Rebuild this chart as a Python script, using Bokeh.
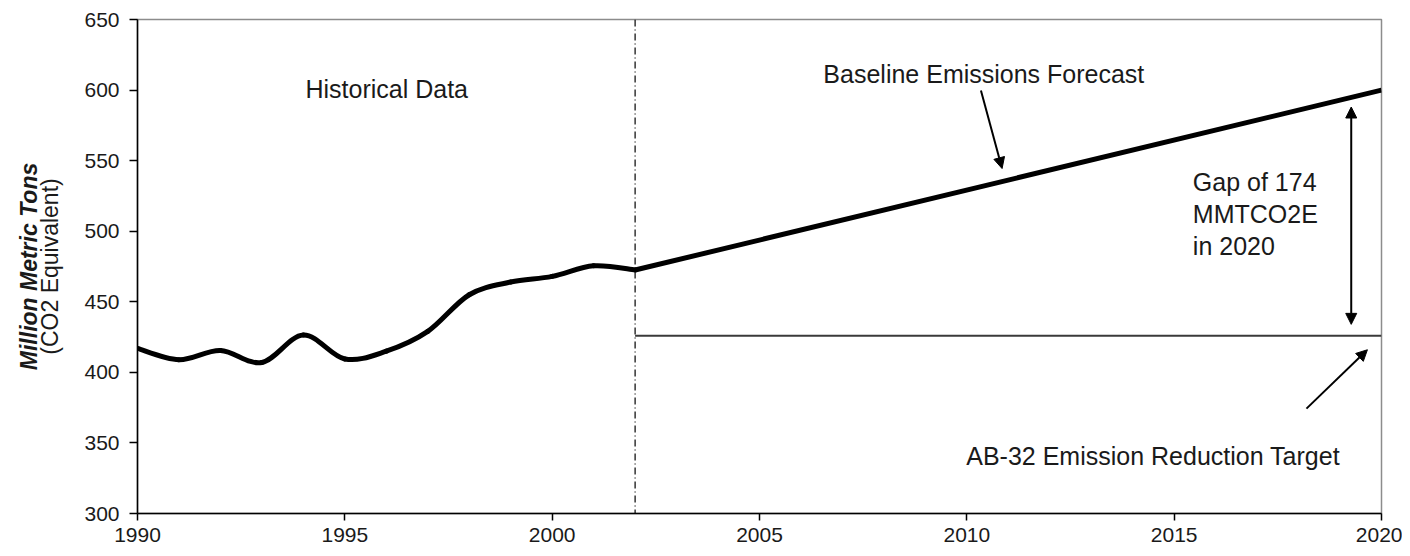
from bokeh.plotting import figure
from bokeh.models import (LinearAxis, FixedTicker, Span, Arrow, NormalHead,
                          ColumnDataSource, Range1d)
from bokeh.core.properties import value
from bokeh.embed import file_html
from bokeh.resources import INLINE

# ---- data ----
hist_years = [1990, 1991, 1992, 1993, 1994, 1995, 1996, 1997, 1998, 1999, 2000, 2001, 2002]
hist_values = [417, 409, 415.5, 407, 426.5, 409.5, 415, 429, 455, 464, 468, 475.5, 472.5]

forecast_years = [2002, 2020]
forecast_values = [472.5, 600]

target_years = [2002, 2020]
target_values = [426, 426]

split_year = 2002

x_ticks = [1990, 1995, 2000, 2005, 2010, 2015, 2020]
y_ticks = [300, 350, 400, 450, 500, 550, 600, 650]

note_text = ["Historical Data", "Baseline Emissions Forecast", "Gap of 174", "MMTCO2E", "in 2020"]
note_x = [1994.05, 2006.54, 2015.45, 2015.45, 2015.45]
note_y = [601, 611.5, 534.7, 512.3, 489.8]

target_note = ["AB-32 Emission Reduction Target"]
target_note_x = [2019.0]
target_note_y = [341]

# arrows: (x_start, y_start, x_end, y_end)
arrow_baseline = (2010.34, 599.7, 2010.85, 544.4)
arrow_target = (2018.19, 374.3, 2019.66, 416.0)
arrow_gap = (2019.27, 434.0, 2019.27, 588.0)

FONT = "Liberation Sans"

p = figure(width=1402, height=552,
           x_range=Range1d(1990, 2020), y_range=Range1d(300, 650),
           output_backend="svg", toolbar_location=None,
           min_border_left=137, min_border_right=21,
           min_border_top=19, min_border_bottom=39)
p.background_fill_color = "white"
p.border_fill_color = "white"
p.grid.visible = False
p.outline_line_color = "#8c8c8c"
p.outline_line_width = 1.5

for ax in (p.xaxis[0], p.yaxis[0]):
    ax.axis_line_color = "black"
    ax.axis_line_width = 1.5
    ax.major_tick_line_color = "black"
    ax.major_tick_line_width = 1.5
    ax.minor_tick_line_color = None
    ax.major_tick_in = 0
    ax.major_label_text_font = FONT
    ax.major_label_text_font_size = "21px"
    ax.major_label_text_color = "#1a1a1a"

p.xaxis.ticker = FixedTicker(ticks=x_ticks)
p.yaxis.ticker = FixedTicker(ticks=y_ticks)
p.xaxis.major_tick_out = 7
p.xaxis.major_label_standoff = 7
p.yaxis.major_tick_out = 8
p.yaxis.major_label_standoff = 10

p.yaxis.axis_label = "(CO2 Equivalent)"
p.yaxis.axis_label_text_font = FONT
p.yaxis.axis_label_text_font_size = "23px"
p.yaxis.axis_label_text_font_style = "normal"
p.yaxis.axis_label_text_color = "#1a1a1a"
p.yaxis.axis_label_standoff = 18

outer = LinearAxis(ticker=FixedTicker(ticks=[]),
                   axis_label="Million Metric Tons",
                   axis_label_text_font=FONT,
                   axis_label_text_font_size="23px",
                   axis_label_text_font_style="bold italic",
                   axis_label_text_color="#1a1a1a",
                   axis_label_standoff=-7,
                   axis_line_color=None,
                   major_tick_line_color=None,
                   minor_tick_line_color=None,
                   major_tick_in=0, major_tick_out=0,
                   major_label_standoff=0)
p.add_layout(outer, "left")

# vertical dash-dot separator
p.add_layout(Span(location=split_year, dimension="height", line_color="black",
                  line_width=1.2, line_dash="7 3 1 3"))

# target line
p.line(target_years, target_values, line_color="#3a3a3a", line_width=2)

# historical line drawn as a smoothed curve (Catmull-Rom style bezier segments
# through the yearly values, like the spreadsheet's "smoothed line")
n = len(hist_years)
x0, y0, x1, y1, cx0, cy0, cx1, cy1 = ([] for _ in range(8))
for i in range(n - 1):
    a = max(i - 1, 0)
    b = min(i + 2, n - 1)
    x0.append(hist_years[i]); y0.append(hist_values[i])
    x1.append(hist_years[i + 1]); y1.append(hist_values[i + 1])
    cx0.append(hist_years[i] + (hist_years[i + 1] - hist_years[a]) / 6.0)
    cy0.append(hist_values[i] + (hist_values[i + 1] - hist_values[a]) / 6.0)
    cx1.append(hist_years[i + 1] - (hist_years[b] - hist_years[i]) / 6.0)
    cy1.append(hist_values[i + 1] - (hist_values[b] - hist_values[i]) / 6.0)
bsrc = ColumnDataSource(dict(x0=x0, y0=y0, x1=x1, y1=y1,
                             cx0=cx0, cy0=cy0, cx1=cx1, cy1=cy1))
p.bezier(x0="x0", y0="y0", x1="x1", y1="y1", cx0="cx0", cy0="cy0",
         cx1="cx1", cy1="cy1", source=bsrc, line_color="black",
         line_width=5, line_cap="round")

# forecast line
p.line(forecast_years, forecast_values, line_color="black", line_width=5,
       line_join="round", line_cap="butt")

# arrows
def head():
    return NormalHead(size=11, fill_color="black", line_color="black", line_width=1)

for (xs, ys, xe, ye) in (arrow_baseline, arrow_target):
    p.add_layout(Arrow(end=head(), x_start=xs, y_start=ys, x_end=xe, y_end=ye,
                       line_color="black", line_width=2))
xs, ys, xe, ye = arrow_gap
p.add_layout(Arrow(start=head(), end=head(), x_start=xs, y_start=ys, x_end=xe, y_end=ye,
                   line_color="black", line_width=2))

# annotations text
src = ColumnDataSource(dict(x=note_x, y=note_y, t=note_text))
p.text(x="x", y="y", text="t", source=src, text_font=value(FONT),
       text_font_size="25px", text_color="#1a1a1a",
       text_align="left", text_baseline="alphabetic")
src2 = ColumnDataSource(dict(x=target_note_x, y=target_note_y, t=target_note))
p.text(x="x", y="y", text="t", source=src2, text_font=value(FONT),
       text_font_size="25px", text_color="#1a1a1a",
       text_align="right", text_baseline="alphabetic")

open("out.html", "w").write(file_html(p, INLINE))
